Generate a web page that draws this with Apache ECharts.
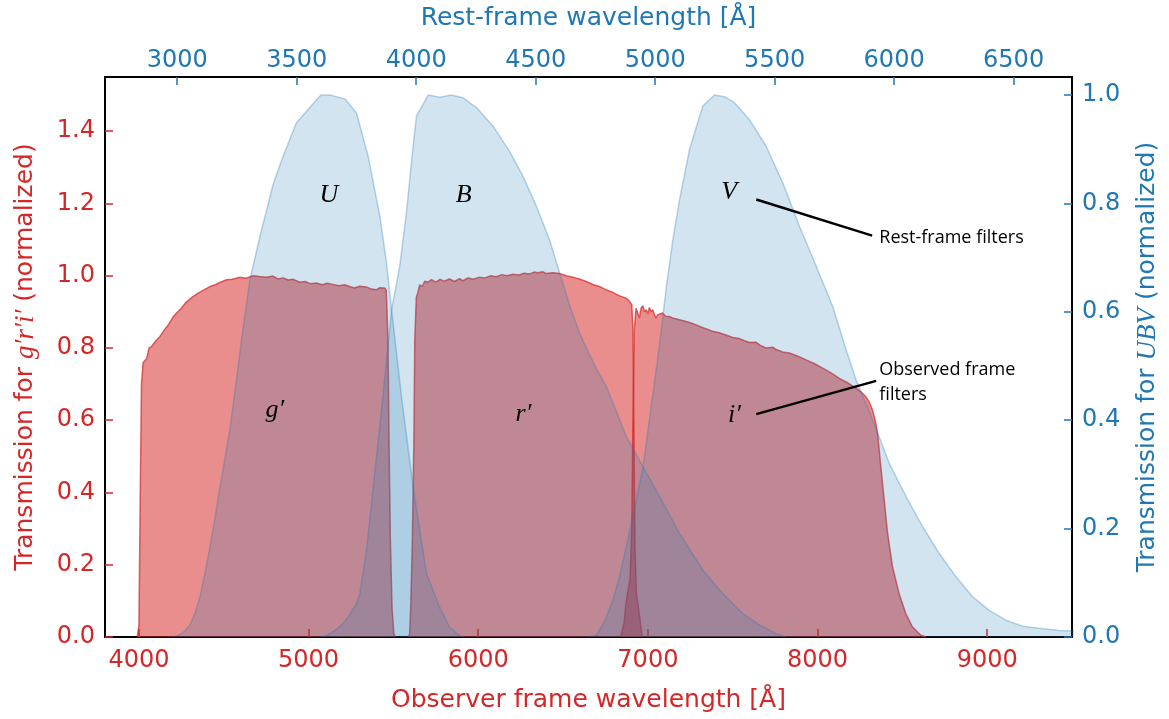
<!DOCTYPE html>
<html>
<head>
<meta charset="utf-8">
<script src="https://cdn.jsdelivr.net/npm/echarts@6/dist/echarts.min.js"></script>
<style>
html,body{margin:0;padding:0;background:#fff;}
#chart{width:1169px;height:719px;}
</style>
</head>
<body>
<div id="chart"></div>
<script>
// ---------- DATA ----------
// Observed-frame filters (bottom axis, Å; left axis transmission)
const gWave = [3990,4000,4008,4015,4025,4045,4060,4074,4100,4124,4150,4175,4200,4222,4250,4275,4300,4320,4350,4380,4418,4450,4480,4516,4550,4595,4630,4673,4710,4752,4790,4820,4850,4880,4910,4948,4980,5010,5046,5080,5110,5144,5180,5210,5242,5270,5300,5340,5370,5399,5420,5448,5458,5468,5474,5482,5492,5502,5510];
const gTrans = [0,0.03,0.40,0.70,0.76,0.77,0.80,0.804,0.82,0.832,0.85,0.865,0.885,0.897,0.91,0.925,0.935,0.943,0.952,0.96,0.970,0.975,0.982,0.989,0.99,0.996,0.993,1.0,0.998,0.996,0.999,0.991,0.994,0.988,0.990,0.982,0.984,0.978,0.980,0.975,0.979,0.976,0.972,0.975,0.970,0.966,0.971,0.969,0.963,0.961,0.967,0.966,0.96,0.82,0.55,0.27,0.08,0.01,0];

const rWave = [5590,5596,5602,5612,5621,5626,5635,5645,5655,5670,5685,5704,5725,5750,5775,5800,5830,5860,5890,5910,5940,5970,6008,6040,6075,6106,6140,6170,6204,6240,6270,6302,6330,6351,6380,6400,6440,6479,6520,6558,6600,6636,6680,6714,6750,6793,6830,6871,6890,6905,6912,6918,6924,6932,6945,6958,6967];
const rTrans = [0,0.01,0.08,0.27,0.55,0.82,0.94,0.955,0.975,0.97,0.985,0.982,0.989,0.982,0.990,0.985,0.991,0.984,0.992,0.986,0.994,0.990,0.996,0.994,1.0,0.997,1.003,1.0,1.004,1.002,1.007,1.005,1.010,1.008,1.011,1.006,1.008,1.006,1.0,0.996,0.99,0.984,0.975,0.970,0.962,0.954,0.945,0.938,0.93,0.92,0.85,0.55,0.25,0.12,0.08,0.03,0];

const iWave = [6840,6860,6870,6880,6895,6905,6912,6920,6930,6940,6950,6960,6970,6980,6990,7000,7009,7020,7029,7040,7048,7058,7068,7087,7105,7127,7150,7186,7220,7250,7284,7320,7350,7382,7420,7460,7500,7539,7570,7598,7637,7660,7696,7735,7760,7794,7833,7870,7900,7932,7980,8030,8080,8128,8180,8226,8260,8285,8305,8324,8340,8354,8373,8393,8413,8442,8481,8520,8559,8609,8640];
const iTrans = [0,0.04,0.09,0.12,0.16,0.30,0.60,0.85,0.91,0.915,0.883,0.91,0.917,0.90,0.906,0.895,0.912,0.90,0.906,0.89,0.883,0.892,0.892,0.897,0.888,0.887,0.882,0.878,0.874,0.87,0.864,0.857,0.852,0.846,0.842,0.836,0.829,0.826,0.82,0.815,0.816,0.808,0.80,0.802,0.795,0.789,0.786,0.78,0.774,0.767,0.757,0.744,0.731,0.716,0.703,0.689,0.677,0.665,0.65,0.628,0.60,0.564,0.471,0.379,0.287,0.194,0.12,0.065,0.028,0.005,0];

// Rest-frame filters (top axis, Å; right axis transmission)
const uWave = [2980,3004,3030,3053,3075,3095,3115,3137,3158,3179,3200,3220,3248,3269,3304,3346,3401,3443,3499,3555,3601,3639,3702,3750,3799,3848,3876,3897,3940,3987,4043,4098,4140,4180,4200];
const uTrans = [0,0.003,0.01,0.022,0.045,0.074,0.115,0.166,0.22,0.277,0.33,0.382,0.474,0.548,0.659,0.739,0.835,0.887,0.949,0.977,1.0,1.0,0.993,0.967,0.887,0.776,0.69,0.604,0.437,0.277,0.117,0.055,0.018,0.003,0];

const bWave = [3600,3625,3660,3694,3720,3750,3764,3792,3820,3860,3897,3931,3959,3987,4001,4050,4099,4147,4196,4252,4321,4391,4447,4503,4558,4600,4642,4684,4726,4760,4796,4879,4949,5019,5102,5200,5283,5367,5438,5506,5548];
const bTrans = [0,0.003,0.012,0.025,0.04,0.062,0.08,0.16,0.277,0.44,0.604,0.684,0.783,0.906,0.961,1.0,0.996,1.0,0.995,0.977,0.943,0.896,0.850,0.795,0.733,0.672,0.612,0.56,0.52,0.49,0.462,0.37,0.314,0.259,0.191,0.123,0.080,0.043,0.022,0.006,0];

const vWave = [4720,4753,4790,4823,4850,4879,4915,4949,4985,5019,5047,5074,5102,5144,5186,5200,5248,5290,5332,5394,5464,5534,5604,5674,5743,5799,5841,5911,5980,6050,6120,6189,6259,6329,6398,6468,6538,6607,6691,6760];
const vTrans = [0,0.003,0.03,0.068,0.11,0.166,0.24,0.314,0.43,0.542,0.647,0.733,0.807,0.90,0.961,0.98,1.0,0.997,0.986,0.955,0.906,0.838,0.758,0.684,0.61,0.53,0.474,0.40,0.32,0.259,0.203,0.154,0.111,0.074,0.049,0.031,0.020,0.016,0.012,0.011];

// Axes
const redshiftFactor = 1.4086;            // observed / rest wavelength
const obsMin = 3800, obsMax = 9500;
const obsTicks = [4000,5000,6000,7000,8000,9000];
const restTicks = [3000,3500,4000,4500,5000,5500,6000,6500];
const leftMax = 1.55;
const leftTicks = [0,0.2,0.4,0.6,0.8,1.0,1.2,1.4];
const rightMax = leftMax / 1.5;
const rightTicks = [0,0.2,0.4,0.6,0.8,1.0];

// Annotations (observed Å, left-axis transmission)
const filterLabels = [
  {text:'U',  x:5119, y:1.222},
  {text:'B',  x:5914, y:1.222},
  {text:'V',  x:7480, y:1.230},
  {text:'g′', x:4801, y:0.628},
  {text:'r′', x:6267, y:0.617},
  {text:'i′', x:7510, y:0.615}
];
const noteTexts = [
  {text:'Rest-frame filters', x:8364, y:1.105},
  {text:'Observed frame\nfilters', x:8364, y:0.705}
];
const noteLines = [
  [[7639,1.211],[8322,1.111]],
  [[7639,0.617],[8346,0.709]]
];

// ---------- CHART ----------
const RED = '#d62728', BLUE = '#1f77b4';
const TICKFONT = 'DejaVu Sans';
const zip = (a,b) => a.map((v,i)=>[v,b[i]]);

function redSeries(name, w, t){
  return {type:'line', name, data:zip(w,t), xAxisIndex:0, yAxisIndex:0,
    showSymbol:false, symbol:'none', animation:false, z:2,
    lineStyle:{color:RED, width:1.5, opacity:0.7},
    areaStyle:{color:RED, opacity:0.53}};
}
function blueSeries(name, w, t){
  return {type:'line', name, data:zip(w,t), xAxisIndex:1, yAxisIndex:1,
    showSymbol:false, symbol:'none', animation:false, z:3,
    lineStyle:{color:BLUE, width:1.5, opacity:0.3},
    areaStyle:{color:BLUE, opacity:0.2}};
}

const chart = echarts.init(document.getElementById('chart'), null, {renderer:'canvas'});
const axisLineBlack = {show:true, onZero:false, lineStyle:{color:'#000', width:2}};

chart.setOption({
  animation:false,
  backgroundColor:'#fff',
  grid:{left:105, right:96, top:77, bottom:82, containLabel:false},
  xAxis:[
    {type:'value', position:'bottom', min:obsMin, max:obsMax,
     axisLine:axisLineBlack,
     axisTick:{show:true, inside:true, length:8, lineStyle:{color:RED, width:1.5}, customValues:obsTicks},
     axisLabel:{color:RED, fontFamily:TICKFONT, fontSize:24, margin:12, customValues:obsTicks,
       formatter:v=>String(v)},
     splitLine:{show:false},
     name:'Observer frame wavelength [Å]', nameLocation:'middle', nameGap:51,
     nameTextStyle:{color:RED, fontFamily:TICKFONT, fontSize:25}},
    {type:'value', position:'top', min:obsMin/redshiftFactor, max:obsMax/redshiftFactor,
     axisLine:axisLineBlack,
     axisTick:{show:true, inside:true, length:8, lineStyle:{color:BLUE, width:1.5}, customValues:restTicks},
     axisLabel:{color:BLUE, fontFamily:TICKFONT, fontSize:24, margin:4, customValues:restTicks,
       formatter:v=>String(v)},
     splitLine:{show:false},
     name:'Rest-frame wavelength [Å]', nameLocation:'middle', nameGap:46,
     nameTextStyle:{color:BLUE, fontFamily:TICKFONT, fontSize:25}}
  ],
  yAxis:[
    {type:'value', position:'left', min:0, max:leftMax,
     axisLine:axisLineBlack,
     axisTick:{show:true, inside:true, length:8, lineStyle:{color:RED, width:1.5}, customValues:leftTicks},
     axisLabel:{color:RED, fontFamily:TICKFONT, fontSize:24, margin:10, customValues:leftTicks,
       formatter:v=>v.toFixed(1)},
     splitLine:{show:false},
     name:'Transmission for {m|g′r′i′} (normalized)', nameLocation:'middle', nameGap:66, nameRotate:90,
     nameTextStyle:{color:RED, fontFamily:TICKFONT, fontSize:25,
       rich:{m:{fontFamily:'Liberation Serif', fontStyle:'italic', fontSize:27, color:RED}}}},
    {type:'value', position:'right', min:0, max:rightMax,
     axisLine:axisLineBlack,
     axisTick:{show:true, inside:true, length:8, lineStyle:{color:BLUE, width:1.5}, customValues:rightTicks},
     axisLabel:{color:BLUE, fontFamily:TICKFONT, fontSize:24, margin:10, customValues:rightTicks,
       formatter:v=>v.toFixed(1)},
     splitLine:{show:false},
     name:'Transmission for {m|UBV} (normalized)', nameLocation:'middle', nameGap:62, nameRotate:90,
     nameTextStyle:{color:BLUE, fontFamily:TICKFONT, fontSize:25,
       rich:{m:{fontFamily:'Liberation Serif', fontStyle:'italic', fontSize:27, color:BLUE}}}}
  ],
  series:[
    redSeries("g'", gWave, gTrans),
    redSeries("r'", rWave, rTrans),
    redSeries("i'", iWave, iTrans),
    blueSeries('U', uWave, uTrans),
    blueSeries('B', bWave, bTrans),
    blueSeries('V', vWave, vTrans)
  ]
});

// annotation graphics placed through the axes' own conversion
const toPx = p => chart.convertToPixel({xAxisIndex:0, yAxisIndex:0}, p);
const graphics = [];
filterLabels.forEach(l=>{
  const p = toPx([l.x, l.y]);
  graphics.push({type:'text', x:p[0], y:p[1], z:10,
    style:{text:l.text, fill:'#000', font:'italic 26px "Liberation Serif"', textAlign:'center', textVerticalAlign:'middle'}});
});
noteTexts.forEach(n=>{
  const p = toPx([n.x, n.y]);
  graphics.push({type:'text', x:p[0], y:p[1], z:10,
    style:{text:n.text, fill:'#000', font:'18px "Open Sans"', lineHeight:25, textAlign:'left', textVerticalAlign:'middle'}});
});
noteLines.forEach(l=>{
  const a = toPx(l[0]), b = toPx(l[1]);
  graphics.push({type:'line', z:10, shape:{x1:a[0], y1:a[1], x2:b[0], y2:b[1]},
    style:{stroke:'#000', lineWidth:2.5}});
});
chart.setOption({graphic:graphics});
</script>
</body>
</html>
